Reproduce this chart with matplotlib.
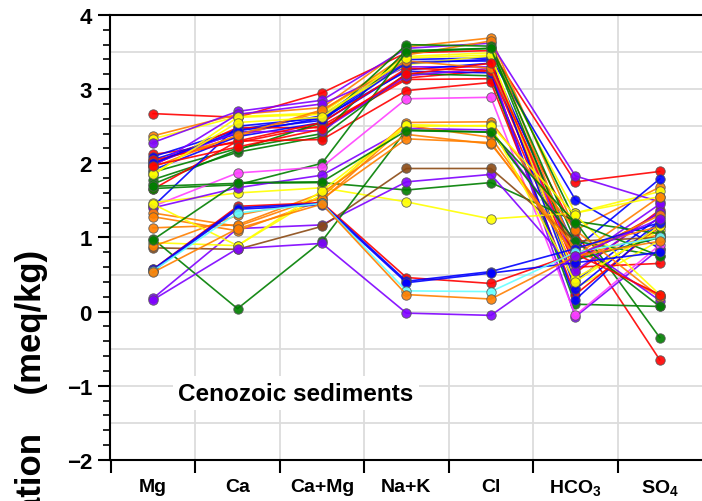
import numpy as np
import matplotlib
matplotlib.use("Agg")
import matplotlib.pyplot as plt
from matplotlib.ticker import MultipleLocator

plt.rcParams["font.family"] = ["Liberation Sans", "DejaVu Sans"]
plt.rcParams["font.weight"] = "bold"
plt.rcParams["mathtext.fontset"] = "custom"
plt.rcParams["mathtext.rm"] = "Liberation Sans:bold"
plt.rcParams["mathtext.bf"] = "Liberation Sans:bold"

# ---------------- data: log concentration (meq/kg) per ion ----------------
ions = ["Mg", "Ca", "Ca+Mg", "Na+K", "Cl", r"HCO$_\mathbf{3}$", r"SO$_\mathbf{4}$"]

# samples with high Na+K / Cl
high_colors = ["red", "orange", "yellow", "purple", "red", "blue", "blue", "orange",
               "red", "purple", "blue", "green", "yellow", "green", "green", "red",
               "blue", "purple", "red", "blue", "orange", "yellow", "green", "red"]
high_values = [
    [2.67, 2.62, 2.95, 3.49, 3.52, 1.75, 1.89],
    [2.37, 2.66, 2.75, 3.57, 3.69, 1.10, 1.68],
    [2.33, 2.63, 2.68, 3.44, 3.49, 1.33, 1.62],
    [2.28, 2.70, 2.85, 3.55, 3.62, 1.83, 1.48],
    [2.12, 2.28, 2.51, 3.15, 3.25, 1.08, -0.65],
    [2.09, 2.45, 2.64, 3.40, 3.42, 1.51, 0.85],
    [2.05, 2.40, 2.61, 3.37, 3.38, 0.85, 1.79],
    [2.02, 2.36, 2.70, 3.46, 3.65, 0.75, 1.04],
    [1.98, 2.48, 2.48, 3.13, 3.14, 0.52, 1.37],
    [1.96, 2.66, 2.80, 3.30, 3.30, 0.66, 1.45],
    [1.91, 2.36, 2.55, 3.26, 3.35, 0.41, 1.28],
    [1.88, 2.20, 2.40, 3.52, 3.55, 0.95, 0.75],
    [1.84, 2.62, 2.66, 3.33, 3.45, 0.32, 0.96],
    [1.78, 2.15, 2.36, 3.21, 3.18, 0.10, 0.07],
    [1.72, 2.18, 2.55, 3.60, 3.58, 1.22, -0.35],
    [1.65, 2.30, 2.32, 2.98, 3.09, 0.23, 1.15],
    [1.42, 2.50, 2.61, 3.24, 3.22, 0.16, 1.20],
    [1.99, 2.42, 2.44, 3.18, 3.28, -0.07, 0.85],
    [2.04, 2.30, 2.55, 3.28, 3.25, 0.60, 0.65],
    [2.00, 2.44, 2.58, 3.35, 3.40, 0.30, 1.22],
    [1.95, 2.38, 2.72, 3.38, 3.28, 0.85, 0.20],
    [1.86, 2.55, 2.62, 3.42, 3.46, 0.45, 1.10],
    [1.66, 1.71, 2.00, 3.50, 3.55, 0.70, 1.00],
    [1.97, 2.22, 2.46, 3.20, 3.35, 0.70, 1.33],
]

# samples with intermediate Na+K / Cl
mid_colors = ["magenta", "green", "yellow", "purple", "brown", "purple", "orange",
              "orange", "yellow", "green", "orange", "orange", "yellow", "green"]
mid_values = [
    [1.42, 1.87, 1.95, 2.87, 2.89, -0.05, 0.90],
    [1.69, 1.73, 1.74, 1.64, 1.74, 1.22, 1.05],
    [1.47, 1.60, 1.67, 1.48, 1.25, 1.33, 1.55],
    [0.18, 1.12, 1.17, 1.75, 1.85, 0.55, 1.35],
    [0.86, 0.84, 1.15, 1.93, 1.93, 0.95, 1.00],
    [1.40, 1.67, 1.84, 2.47, 2.45, 0.95, 0.15],
    [1.33, 1.15, 1.55, 2.55, 2.56, 1.10, 0.20],
    [1.28, 1.09, 1.50, 2.51, 2.35, 0.75, 1.30],
    [0.93, 0.89, 1.58, 2.50, 2.51, 1.30, 0.23],
    [0.98, 0.04, 0.95, 2.45, 2.42, 0.95, 0.07],
    [1.13, 1.17, 1.60, 2.39, 2.26, 0.85, 1.15],
    [0.88, 1.30, 1.52, 2.33, 2.28, 0.75, 1.55],
    [1.45, 0.89, 1.63, 2.52, 2.50, 0.40, 1.15],
    [0.97, 1.74, 1.75, 2.44, 2.42, 1.20, 0.75],
]

# samples with low Na+K / Cl
low_colors = ["red", "blue", "blue", "cyan", "orange", "purple"]
low_values = [
    [0.57, 1.42, 1.47, 0.46, 0.38, 0.78, 0.23],
    [0.57, 1.40, 1.46, 0.41, 0.54, 0.85, 1.20],
    [0.55, 1.38, 1.44, 0.39, 0.52, 0.66, 0.80],
    [0.55, 1.33, 1.46, 0.28, 0.27, 0.80, 1.00],
    [0.53, 1.12, 1.45, 0.23, 0.17, 0.75, 0.95],
    [0.16, 0.85, 0.92, -0.02, -0.05, 0.75, 1.25],
]

palette = {"red": "#ff0000", "orange": "#ff7f00", "yellow": "#ffff00",
           "green": "#007f00", "blue": "#0000ff", "purple": "#7f00ff",
           "magenta": "#ff40ff", "cyan": "#66ffff", "brown": "#8b4a14"}

# ---------------- figure ----------------
fig = plt.figure(figsize=(7.02, 5.02), dpi=100)
ax = fig.add_axes([0.1567, 0.0817, 0.8433, 0.8865])

x = np.arange(len(ions))
for colors, values in [(high_colors, high_values), (mid_colors, mid_values),
                       (low_colors, low_values)]:
    for c, v in zip(colors, values):
        ax.plot(x, v, "-o", color=palette[c], lw=1.2, alpha=0.9,
                markersize=6.8, markerfacecolor=palette[c],
                markeredgecolor="#555555", markeredgewidth=0.6, zorder=3)

ax.set_xlim(-0.51, 6.5)
ax.set_ylim(-2, 4)

# grid: every 0.5 in y, between ions in x
for gy in np.arange(-1.5, 4.0, 0.5):
    ax.axhline(gy, color="#dcdcdc", lw=1.3, zorder=0)
for gx in np.arange(0.5, 6.0, 1.0):
    ax.axvline(gx, color="#dcdcdc", lw=1.3, zorder=0)

# y axis
ax.yaxis.set_major_locator(MultipleLocator(1))
ax.yaxis.set_minor_locator(MultipleLocator(0.2))
ax.tick_params(axis="y", which="major", length=9, width=1.5, labelsize=16, pad=4)
ax.tick_params(axis="y", which="minor", length=5, width=1.2)

# x axis: ticks between ions, labels at ions
ax.set_xticks(np.arange(-0.5, 6.0, 1.0))
ax.set_xticklabels([])
ax.set_xticks(x, minor=True)
ax.set_xticklabels(ions, minor=True)
ax.tick_params(axis="x", which="major", length=9, width=1.5)
ax.tick_params(axis="x", which="minor", length=0, labelsize=14, pad=13)

for side in ["left", "bottom", "top"]:
    ax.spines[side].set_linewidth(1.5)
ax.spines["right"].set_visible(False)

ax.text(0.3, -1.1, "Cenozoic sediments", fontsize=17.5, fontweight="bold",
        va="center", ha="left", zorder=4,
        bbox=dict(facecolor="white", edgecolor="none", pad=4))

fig.text(0.045, 0.502, "Log concentration    (meq/kg)", rotation=90,
         fontsize=25, fontweight="bold", ha="center", va="top")

fig.savefig("out.png", dpi=100)
